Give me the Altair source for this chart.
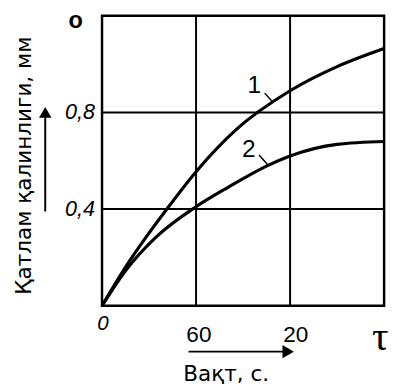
import altair as alt
import pandas as pd

# --- data ---
t1 = [0, 0.25, 0.48, 0.67, 1.0, 1.42, 2.0, 2.5, 3.0]
curve1 = [0, 0.16, 0.29, 0.39, 0.555, 0.727, 0.89, 0.99, 1.065]
t2 = [0, 0.25, 0.58, 1.0, 1.34, 1.76, 2.0, 2.5, 3.0]
curve2 = [0, 0.145, 0.286, 0.41, 0.49, 0.58, 0.62, 0.668, 0.68]
x_grid = [1, 2]
y_grid = [0.4, 0.8]
y_tick_labels = ["0,4", "0,8"]
x_tick_labels = ["60", "20"]

curves = pd.DataFrame(
    {"t": t1 + t2,
     "v": curve1 + curve2,
     "s": ["1"] * len(t1) + ["2"] * len(t2)}
)

xs = alt.Scale(domain=[0, 3], nice=False, zero=False)
ys = alt.Scale(domain=[0, 1.2], nice=False, zero=False)

def X(f):
    return alt.X(f, type="quantitative", scale=xs, axis=None)

def Y(f):
    return alt.Y(f, type="quantitative", scale=ys, axis=None)

frame = alt.Chart(pd.DataFrame({"x": [0], "x2": [3], "y": [0], "y2": [1.2]})).mark_rect(
    fillOpacity=0, stroke="black", strokeWidth=2.5).encode(x=X("x"), x2="x2", y=Y("y"), y2="y2")

# grid
vgrid = alt.Chart(pd.DataFrame({"x": x_grid, "y0": [0, 0], "y1": [1.2, 1.2]})).mark_rule(
    color="black", strokeWidth=2).encode(x=X("x"), y=Y("y0"), y2="y1")
hgrid = alt.Chart(pd.DataFrame({"y": y_grid, "x0": [0, 0], "x1": [3, 3]})).mark_rule(
    color="black", strokeWidth=2).encode(y=Y("y"), x=X("x0"), x2="x1")

lines = alt.Chart(curves).mark_line(color="black", strokeWidth=3.2, interpolate="monotone").encode(
    x=X("t"), y=Y("v"), detail="s:N")

# curve labels and leaders
curve_lbl = alt.Chart(pd.DataFrame({"x": [1.62, 1.56], "y": [0.915, 0.65], "t": ["1", "2"]})).mark_text(
    font="Liberation Sans", fontSize=25, color="black").encode(x=X("x"), y=Y("y"), text="t:N")
leaders = alt.Chart(pd.DataFrame({"x": [1.73, 1.67], "y": [0.88, 0.624],
                                  "x2": [1.81, 1.76], "y2": [0.845, 0.585]})).mark_rule(
    color="black", strokeWidth=1.5).encode(x=X("x"), y=Y("y"), x2="x2", y2="y2")

# tick labels
ylab = alt.Chart(pd.DataFrame({"x": [-0.075, -0.075], "y": y_grid, "t": y_tick_labels})).mark_text(
    font="Liberation Sans", fontSize=22, fontStyle="italic", align="right", color="black").encode(
    x=X("x"), y=Y("y"), text="t:N")
xlab = alt.Chart(pd.DataFrame({"x": [1.03, 2.06], "y": [-0.123, -0.123], "t": x_tick_labels})).mark_text(
    font="Liberation Sans", fontSize=23, color="black").encode(x=X("x"), y=Y("y"), text="t:N")
zero_lbl = alt.Chart(pd.DataFrame({"x": [0.01], "y": [-0.075], "t": ["0"]})).mark_text(
    font="Liberation Sans", fontSize=21, fontStyle="italic", color="black").encode(
    x=X("x"), y=Y("y"), text="t:N")
tau_lbl = alt.Chart(pd.DataFrame({"x": [2.96], "y": [-0.13], "t": ["τ"]})).mark_text(
    font="Liberation Serif", fontSize=42, color="black").encode(x=X("x"), y=Y("y"), text="t:N")
delta_lbl = alt.Chart(pd.DataFrame({"x": [-0.28], "y": [1.18], "t": ["o"]})).mark_text(
    font="Liberation Sans", fontSize=24, fontWeight="bold", color="black").encode(
    x=X("x"), y=Y("y"), text="t:N")

# axis titles
xtitle = alt.Chart(pd.DataFrame({"x": [1.32], "y": [-0.283], "t": ["Вақт, с."]})).mark_text(
    font="DejaVu Sans", fontSize=22, color="black").encode(x=X("x"), y=Y("y"), text="t:N")
ytitle = alt.Chart(pd.DataFrame({"x": [-0.83], "y": [0.58], "t": ["Қатлам қалинлиги, мм"]})).mark_text(
    font="DejaVu Sans", fontSize=22, angle=270, color="black").encode(x=X("x"), y=Y("y"), text="t:N")

# arrows
yarrow = alt.Chart(pd.DataFrame({"x": [-0.604], "y": [0.39], "y2": [0.78]})).mark_rule(
    color="black", strokeWidth=2).encode(x=X("x"), y=Y("y"), y2="y2")
yhead = alt.Chart(pd.DataFrame({"x": [-0.604], "y": [0.80]})).mark_point(
    shape="triangle-up", size=160, filled=True, color="black", opacity=1).encode(x=X("x"), y=Y("y"))
xarrow = alt.Chart(pd.DataFrame({"x": [0.92], "x2": [1.93], "y": [-0.19]})).mark_rule(
    color="black", strokeWidth=2).encode(x=X("x"), x2="x2", y=Y("y"))
xhead = alt.Chart(pd.DataFrame({"x": [1.98], "y": [-0.19]})).mark_point(
    shape="triangle-right", size=180, filled=True, color="black", opacity=1).encode(x=X("x"), y=Y("y"))

chart = alt.layer(
    frame, vgrid, hgrid, lines, curve_lbl, leaders, ylab, xlab, zero_lbl, tau_lbl, delta_lbl,
    xtitle, ytitle, yarrow, yhead, xarrow, xhead
).properties(
    width=288, height=296,
    autosize=alt.AutoSizeParams(type="none"),
    padding={"left": 96, "top": 4, "right": 5, "bottom": 80},
).configure_view(strokeWidth=0).configure(background="white")

chart.save("out.html", embed_options={"renderer": "svg", "actions": False})
